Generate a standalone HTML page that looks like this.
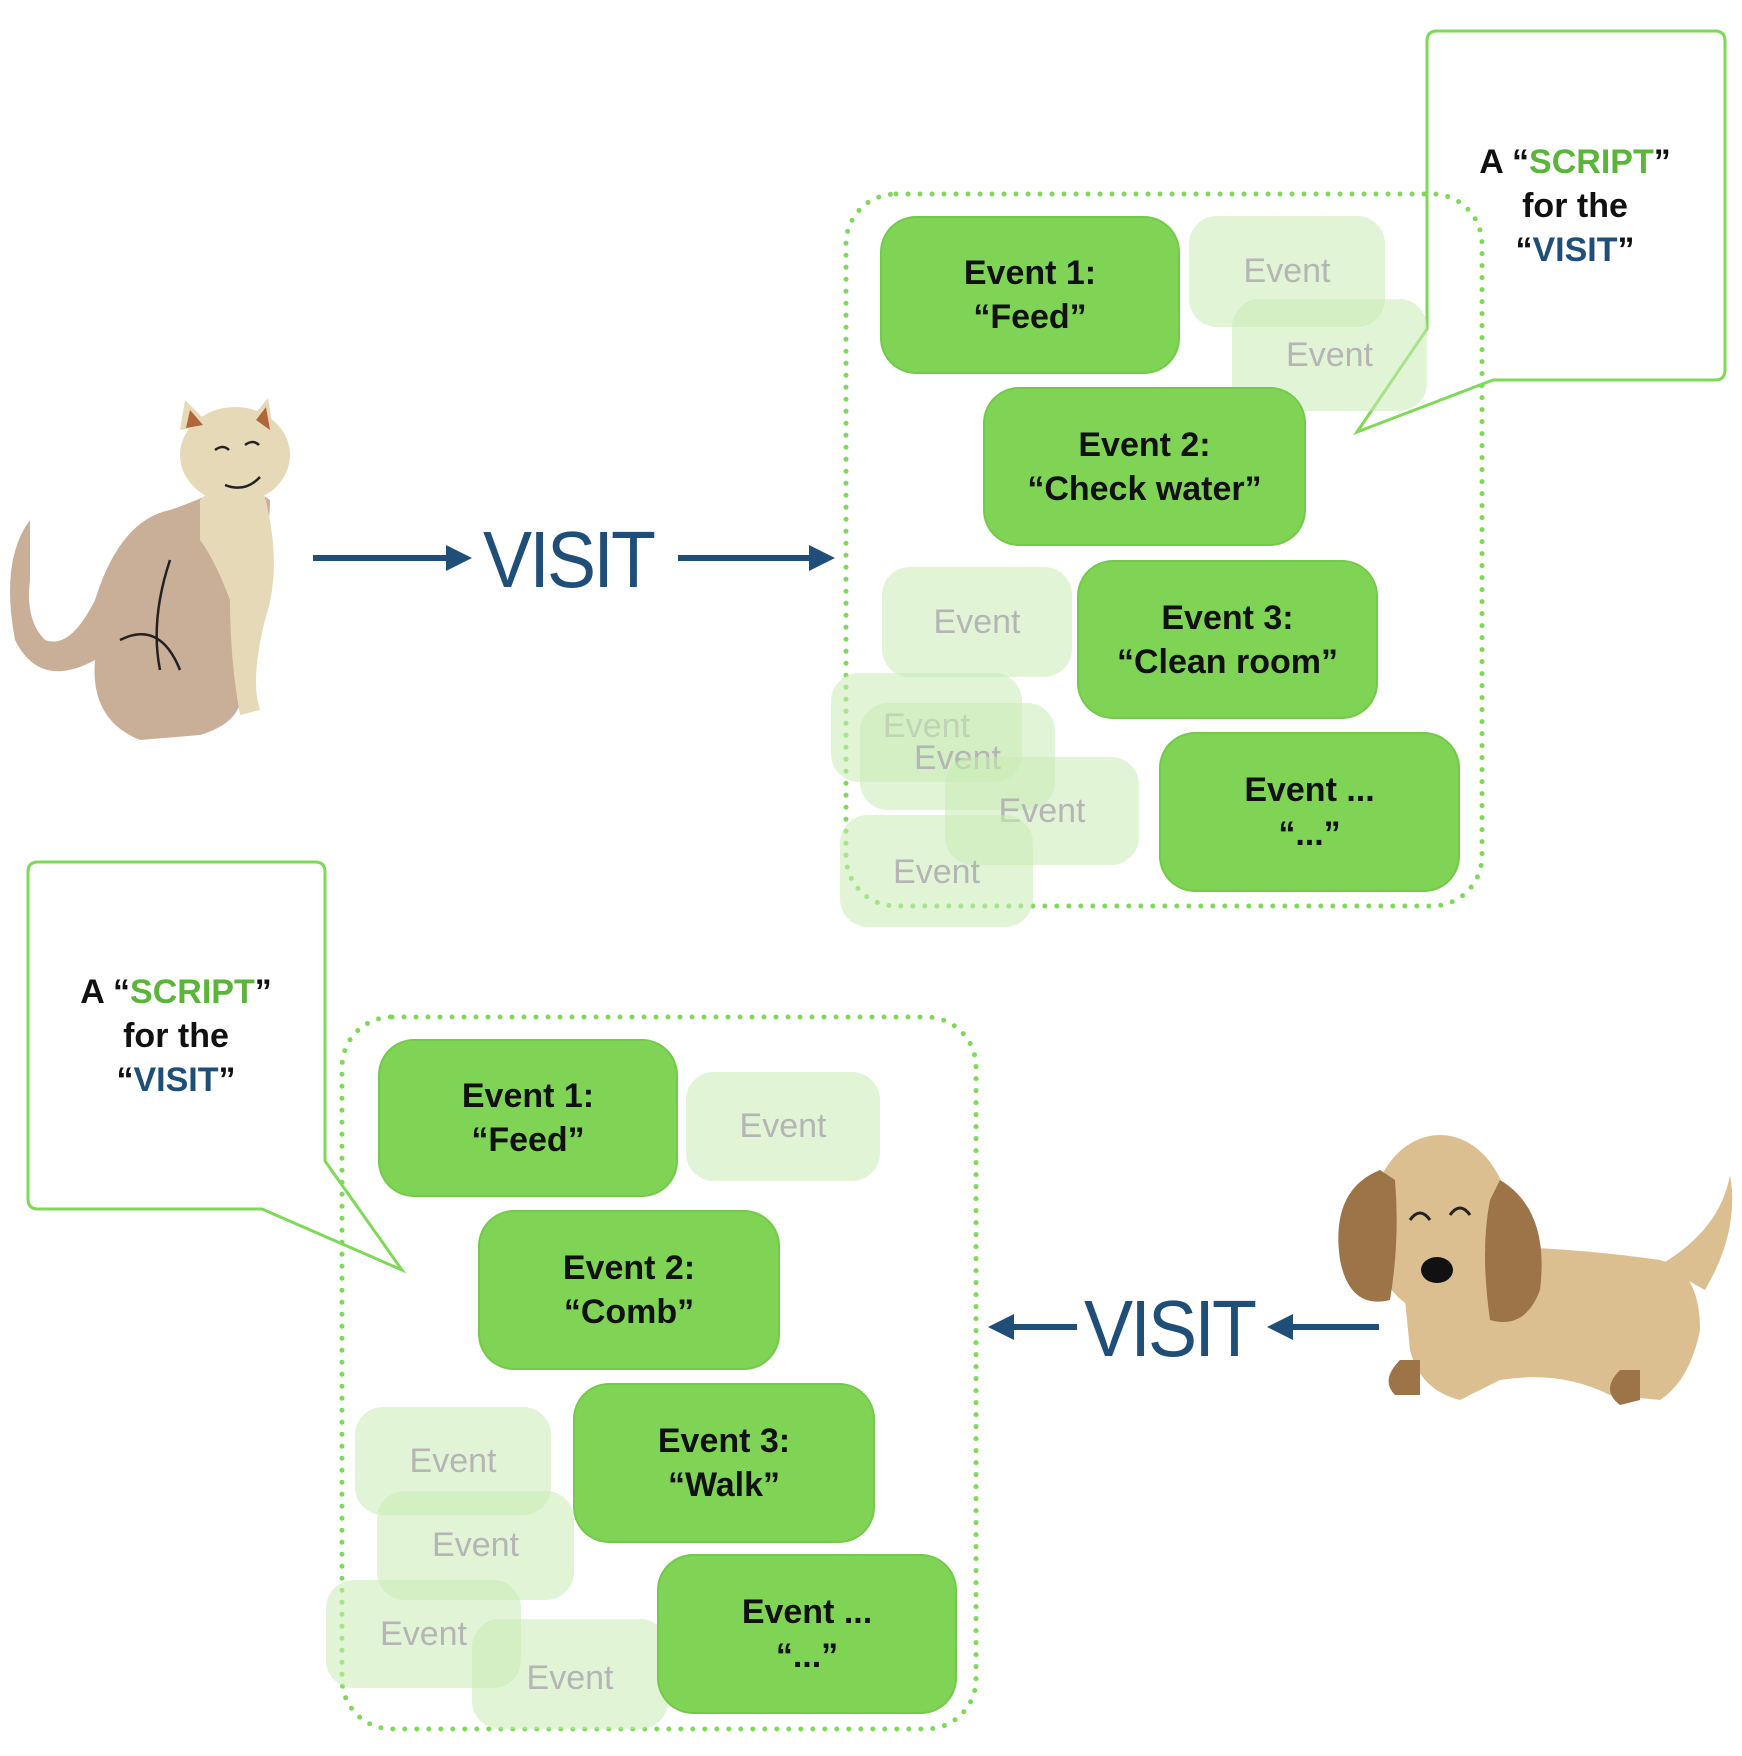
<!DOCTYPE html>
<html><head><meta charset="utf-8"><style>
body{margin:0;width:1742px;height:1756px;background:#fff;position:relative;overflow:hidden;font-family:"Liberation Sans",Arial,sans-serif}
.b{position:absolute;background:#80d455;border-radius:34px;display:flex;align-items:center;justify-content:center;text-align:center;font-weight:bold;font-size:34px;line-height:44px;color:#111;box-shadow:0 0 0 2px #74c94a}
.f{position:absolute;background:rgba(200,235,180,0.55);border-radius:28px;display:flex;align-items:center;justify-content:center;font-size:34px;color:#b5b5b5}
.t{position:absolute;text-align:center;font-size:34px;line-height:44px;font-weight:bold;color:#111}
.g{color:#5bb53a}.n{color:#1f4e79}
.v{position:absolute;font-size:80px;color:#1f4e79;line-height:84px;letter-spacing:-3px;transform:scaleX(0.92);transform-origin:left}
</style></head><body>
<svg width="1742" height="1756" style="position:absolute;left:0;top:0">
<path d="M1437,31 H1715 Q1725,31 1725,41 V370 Q1725,380 1715,380 H1493 L1357,432 L1427,329 V41 Q1427,31 1437,31Z" fill="#fff" stroke="#7ed957" stroke-width="3"/>
<path d="M38,862 H315 Q325,862 325,872 V1161 L402,1270 L262,1209 H38 Q28,1209 28,1199 V872 Q28,862 38,862Z" fill="#fff" stroke="#7ed957" stroke-width="3"/>
<rect x="846" y="194" width="636" height="712" rx="50" fill="none" stroke="#7ed957" stroke-width="5" stroke-dasharray="0 12" stroke-linecap="round"/>
<rect x="342" y="1017" width="634" height="712" rx="50" fill="none" stroke="#7ed957" stroke-width="5" stroke-dasharray="0 12" stroke-linecap="round"/>
<g stroke="#1f4e79" stroke-width="6" fill="#1f4e79">
<line x1="313" y1="558" x2="450" y2="558"/><polygon points="472,558 446,545 446,571" stroke="none"/>
<line x1="678" y1="558" x2="812" y2="558"/><polygon points="835,558 809,545 809,571" stroke="none"/>
<line x1="1010" y1="1327" x2="1077" y2="1327"/><polygon points="988,1327 1014,1314 1014,1340" stroke="none"/>
<line x1="1290" y1="1327" x2="1379" y2="1327"/><polygon points="1267,1327 1293,1314 1293,1340" stroke="none"/>
</g>
<g>
<path d="M30,520 Q0,560 15,640 Q40,690 95,660 Q90,720 140,740 L200,735 Q250,720 240,680 L250,600 Q270,540 270,500 L240,480 Q200,500 170,510 Q120,520 95,600 Q70,650 45,640 Q25,620 30,580Z" fill="#c9af98"/>
<path d="M200,500 Q230,470 260,480 Q285,560 265,620 Q250,680 260,710 L240,715 Q230,660 230,600 Q215,560 200,540Z" fill="#e6d9b8"/>
<ellipse cx="235" cy="455" rx="55" ry="48" fill="#e6d9b8"/>
<polygon points="180,430 185,400 210,425" fill="#e6d9b8"/><polygon points="250,420 268,398 275,440" fill="#e6d9b8"/>
<polygon points="186,428 190,410 203,425" fill="#b0653a"/><polygon points="256,420 266,407 270,430" fill="#b0653a"/>
<path d="M215,450 q8,-6 14,0 M245,445 q8,-6 14,0 M225,485 q20,8 35,-8 M120,640 q40,-20 60,30 M170,560 q-20,60 -10,110" stroke="#222" stroke-width="2.5" fill="none"/>
</g>
<g>
<path d="M1400,1250 Q1520,1240 1660,1260 Q1700,1270 1700,1330 Q1690,1380 1660,1400 L1610,1395 Q1560,1370 1500,1380 L1460,1400 Q1420,1390 1410,1350Z" fill="#dcbf90"/>
<path d="M1660,1265 Q1720,1230 1730,1175 Q1740,1230 1705,1290Z" fill="#dcbf90"/>
<ellipse cx="1440" cy="1225" rx="70" ry="90" fill="#dcbf90"/>
<path d="M1380,1170 Q1330,1190 1340,1260 Q1350,1310 1390,1300 Q1400,1240 1395,1180Z" fill="#9c7447"/>
<path d="M1500,1180 Q1550,1210 1540,1290 Q1525,1330 1490,1320 Q1480,1250 1490,1200Z" fill="#9c7447"/>
<path d="M1400,1360 Q1380,1380 1395,1395 L1420,1395 L1420,1360Z M1620,1370 Q1600,1390 1620,1405 L1640,1400 L1640,1370Z" fill="#9c7447"/>
<ellipse cx="1437" cy="1270" rx="16" ry="13" fill="#111"/>
<path d="M1410,1220 q10,-14 20,0 M1450,1215 q10,-14 20,0" stroke="#222" stroke-width="3" fill="none"/>
</g>
</svg>
<div class="f" style="left:1189px;top:216px;width:196px;height:111px">Event</div>
<div class="f" style="left:1232px;top:299px;width:195px;height:112px">Event</div>
<div class="f" style="left:882px;top:567px;width:190px;height:110px">Event</div>
<div class="f" style="left:831px;top:673px;width:191px;height:109px;align-items:flex-start;padding-top:34px;box-sizing:border-box">Event</div>
<div class="f" style="left:860px;top:703px;width:195px;height:107px;align-items:flex-start;padding-top:36px;box-sizing:border-box">Event</div>
<div class="f" style="left:945px;top:757px;width:194px;height:108px">Event</div>
<div class="f" style="left:840px;top:815px;width:193px;height:112px;align-items:flex-start;padding-top:38px;box-sizing:border-box">Event</div>
<div class="b" style="left:882px;top:218px;width:296px;height:154px">Event 1:<br>“Feed”</div>
<div class="b" style="left:985px;top:389px;width:319px;height:155px">Event 2:<br>“Check water”</div>
<div class="b" style="left:1079px;top:562px;width:297px;height:155px">Event 3:<br>“Clean room”</div>
<div class="b" style="left:1161px;top:734px;width:297px;height:156px">Event ...<br>“...”</div>
<div class="f" style="left:686px;top:1072px;width:194px;height:109px">Event</div>
<div class="f" style="left:355px;top:1407px;width:196px;height:108px">Event</div>
<div class="f" style="left:377px;top:1491px;width:197px;height:109px">Event</div>
<div class="f" style="left:326px;top:1580px;width:195px;height:108px">Event</div>
<div class="f" style="left:472px;top:1619px;width:196px;height:110px;align-items:flex-start;padding-top:40px;box-sizing:border-box">Event</div>
<div class="b" style="left:380px;top:1041px;width:296px;height:154px">Event 1:<br>“Feed”</div>
<div class="b" style="left:480px;top:1212px;width:298px;height:156px">Event 2:<br>“Comb”</div>
<div class="b" style="left:575px;top:1385px;width:298px;height:156px">Event 3:<br>“Walk”</div>
<div class="b" style="left:659px;top:1556px;width:296px;height:156px">Event ...<br>“...”</div>
<div class="t" style="left:1475px;top:140px;width:200px">A “<span class="g">SCRIPT</span>”<br>for the<br>“<span class="n">VISIT</span>”</div>
<div class="t" style="left:76px;top:970px;width:200px">A “<span class="g">SCRIPT</span>”<br>for the<br>“<span class="n">VISIT</span>”</div>
<div class="v" style="left:483px;top:518px">VISIT</div>
<div class="v" style="left:1084px;top:1287px">VISIT</div>
</body></html>
